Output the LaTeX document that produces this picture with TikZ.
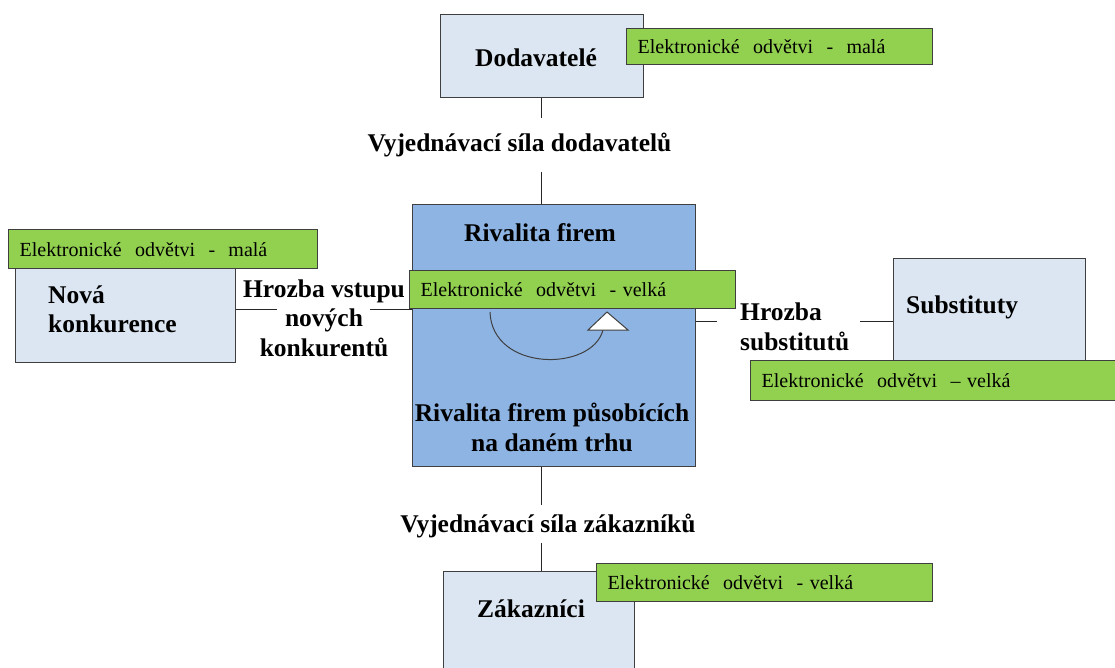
\documentclass[tikz,border=0pt]{standalone}
\usepackage{fontspec}
\setmainfont{Liberation Serif}
\definecolor{lightbox}{HTML}{DCE6F2}
\definecolor{midbox}{HTML}{8EB4E3}
\definecolor{greenlab}{HTML}{92D050}
\definecolor{edge}{HTML}{3F3F3F}
\begin{document}
\begin{tikzpicture}[x=1pt,y=-1pt,
  box/.style={draw=edge, line width=1.3pt, fill=#1, inner sep=0pt, anchor=north west},
  glab/.style={draw=edge, line width=1.3pt, fill=greenlab, anchor=north west, inner xsep=11pt, inner ysep=0pt,
     align=left, font=\fontsize{20}{24}\selectfont},
  btext/.style={font=\fontsize{25.5}{29.5}\selectfont\bfseries, inner sep=0pt},
  conn/.style={draw=black!85, line width=1pt}]
\useasboundingbox (0,0) rectangle (1115,668);
\clip (0,0) rectangle (1115,668);

% boxes
\node[box=lightbox, minimum width=203pt, minimum height=83pt] (dod) at (440,14) {};
\node[box=lightbox, minimum width=220pt, minimum height=94pt] (nova) at (15,268) {};
\node[box=midbox, minimum width=283pt, minimum height=262pt] (rival) at (412,204) {};
\node[box=lightbox, minimum width=192pt, minimum height=122pt] (sub) at (893,258) {};
\node[box=lightbox, minimum width=191pt, minimum height=110pt] (zak) at (443,571) {};

% texts
\node[btext, anchor=base] (tdod) at (536,67) {Dodavatelé};
\node[btext, anchor=base] (tvdod) at (519.5,152) {Vyjednávací síla dodavatelů};
\node[btext, anchor=base] (triv) at (540,241) {Rivalita firem};
\node[btext, align=center] (triv2) at (552,427.5) {Rivalita firem působících\\na daném trhu};
\node[btext, anchor=base] (tvzak) at (548,532) {Vyjednávací síla zákazníků};
\node[btext, anchor=base] (tzak) at (531,617) {Zákazníci};
\node[btext, align=left, anchor=west] (tnova) at (48,309.5) {Nová\\konkurence};
\node[btext, align=center] (thn) at (324,318) {Hrozba vstupu\\nových\\konkurentů};
\node[btext, anchor=base west] (tsub) at (906,313) {Substituty};
\node[btext, align=left, anchor=west] (ths) at (740,327) {Hrozba\\substitutů};

% connectors
\coordinate (c1) at (541,118);
\coordinate (c2) at (541,172);
\coordinate (c3) at (541,505);
\coordinate (c4) at (541,543);
\coordinate (l1) at (277,309);
\coordinate (l2) at (370,309);
\coordinate (r1) at (717,321);
\coordinate (r2) at (860,321);
\draw[conn] (c1 |- dod.south) -- (c1);
\draw[conn] (c2) -- (c2 |- rival.north);
\draw[conn] (c3 |- rival.south) -- (c3);
\draw[conn] (c4) -- (c4 |- zak.north);
\draw[conn] (nova.east |- l1) -- (l1);
\draw[conn] (l2) -- (l2 -| rival.west);
\draw[conn] (rival.east |- r1) -- (r1);
\draw[conn] (r2) -- (r2 -| sub.west);

% rotation arrow
\coordinate (as) at (490,312);
\coordinate (ae) at (603,330);
\draw[edge, line width=1pt] (as) .. controls (492,372) and (592,372) .. (ae);
\draw[edge, line width=1pt, fill=white] (588,330) -- (628,330) -- (607,312) -- cycle;

% green labels
\node[glab, minimum height=36pt, text width=284pt] (gdod) at (626,28) {Elektronické\ \ odvětvi\ \ -\ \ malá};
\node[glab, minimum height=39pt, text width=287pt] (gnova) at (8,229) {Elektronické\ \ odvětvi\ \ -\ \ malá};
\node[glab, minimum height=38pt, text width=304pt] (griv) at (409,270) {Elektronické\ \ odvětvi\ \ - velká};
\node[glab, minimum height=40pt, text width=358pt] (gsub) at (750,360) {Elektronické\ \ odvětvi\ \ -- velká};
\node[glab, minimum height=38pt, text width=314pt] (gzak) at (596,563) {Elektronické\ \ odvětvi\ \ - velká};
\end{tikzpicture}
\end{document}
